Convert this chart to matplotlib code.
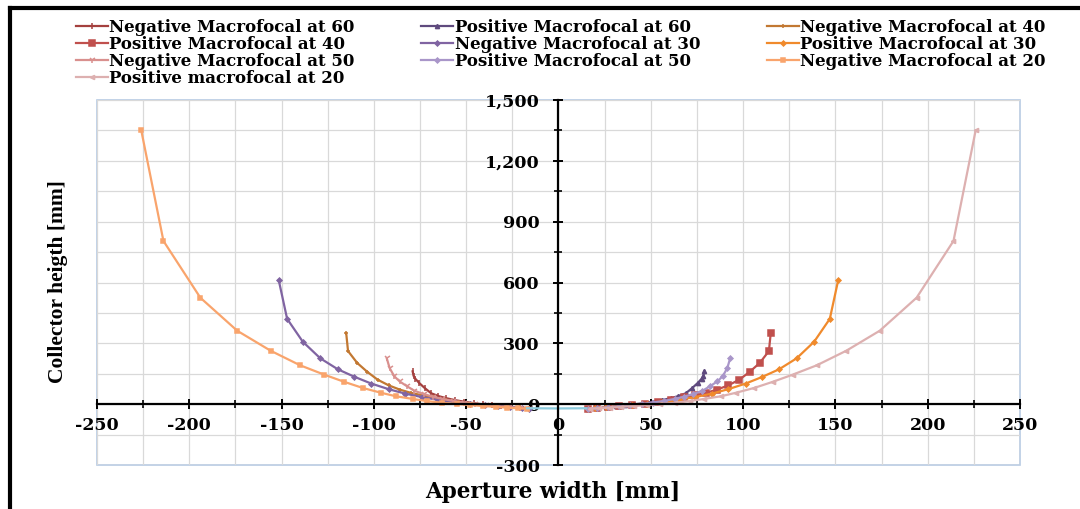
import matplotlib
matplotlib.use("Agg")
import matplotlib.pyplot as plt
from matplotlib.lines import Line2D
from matplotlib.ticker import MultipleLocator, FuncFormatter

plt.rcParams['font.family'] = ['DejaVu Serif']
plt.rcParams['font.weight'] = 'bold'

# values (aperture width x, collector height y, mm)
x_60 = [16, 21, 26, 31, 36, 41, 46, 51, 56, 61, 65, 69, 72.5, 75.5, 77.5, 78.5, 79]
y_60 = [-22, -19, -15, -11, -6, -1, 5, 12, 20, 30, 40, 54, 80, 105, 125, 140, 162]

x_50 = [16, 21, 27, 33, 39, 45, 51, 57, 63, 68, 73, 78, 82, 86, 89, 91.5, 93]
y_50 = [-22, -19, -15, -10, -5, 1, 8, 16, 26, 37, 50, 66, 88, 112, 138, 179, 226]

x_40 = [16, 21, 27, 33, 40, 47, 54, 61, 68, 74, 80, 86, 92, 98, 103.5, 109, 114, 115]
y_40 = [-22, -19, -15, -10, -4, 3, 11, 21, 33, 44, 56, 72, 93, 121, 159, 203, 262, 351]

x_30 = [16, 20, 26, 33, 40, 48, 56, 65, 74, 83, 92, 101.5, 110.5, 119.5, 129, 138.5, 147, 151.5]
y_30 = [-22, -19, -15, -10, -5, 2, 10, 21, 35, 52, 74, 102, 135, 172, 226, 308, 421, 610]

x_20 = [17, 22, 28, 34, 41, 48, 55, 63, 71, 79, 88, 96, 106, 116, 127, 140, 156, 174, 194, 214, 226]
y_20 = [-22, -20, -17, -13, -9, -4, 1, 7, 15, 26, 39, 56, 80, 110, 146, 192, 264, 362, 525, 805, 1350]

x_mid = [-17, 0, 15]
y_mid = [-20, -21, -20]

series = [
    ("Negative Macrofocal at 60", [-v for v in x_60], y_60, "#A4403E", "|", 4),
    ("Positive Macrofocal at 60", x_60, y_60, "#5F4A7E", "^", 3),
    ("Negative Macrofocal at 40", [-v for v in x_40], y_40, "#C27832", "+", 3.5),
    ("Positive Macrofocal at 40", x_40, y_40, "#C0504D", "s", 4),
    ("Negative Macrofocal at 30", [-v for v in x_30], y_30, "#8064A2", "D", 2.5),
    ("Positive Macrofocal at 30", x_30, y_30, "#F08A2C", "D", 2.5),
    ("Negative Macrofocal at 50", [-v for v in x_50], y_50, "#D9908E", "1", 4.5),
    ("Positive Macrofocal at 50", x_50, y_50, "#A996C9", "D", 2.5),
    ("Negative Macrofocal at 20", [-v for v in x_20], y_20, "#F9A46C", "s", 3.5),
    ("Positive macrofocal at 20", x_20, y_20, "#DDB0B0", "<", 3),
]

fig = plt.figure(figsize=(10.8, 5.09), dpi=100)
ax = fig.add_axes([0.0898, 0.0864, 0.8546, 0.7171])

handles = {}
for name, xs, ys, col, mk, ms in series:
    h, = ax.plot(xs, ys, color=col, lw=1.6, marker=mk, ms=ms, mew=1.1, label=name)
    handles[name] = h
ax.plot(x_mid, y_mid, color="#8CCBDD", lw=1.6)

ax.set_xlim(-250, 250)
ax.set_ylim(-300, 1500)
ax.xaxis.set_major_locator(MultipleLocator(50))
ax.xaxis.set_minor_locator(MultipleLocator(25))
ax.yaxis.set_major_locator(MultipleLocator(300))
ax.yaxis.set_minor_locator(MultipleLocator(150))
ax.yaxis.set_major_formatter(FuncFormatter(lambda v, p: f"{v:,.0f}"))
ax.xaxis.set_major_formatter(FuncFormatter(lambda v, p: f"{v:.0f}"))

ax.set_axisbelow(True)
ax.grid(which='both', color='#D9D9D9', lw=0.9)

ax.spines['left'].set_position(('data', 0))
ax.spines['bottom'].set_position(('data', 0))
ax.spines['top'].set_visible(False)
ax.spines['right'].set_visible(False)
for s in ('left', 'bottom'):
    ax.spines[s].set_linewidth(1.6)
    ax.spines[s].set_color('black')
ax.patch.set_edgecolor('#B7CBE3')
ax.patch.set_linewidth(1.2)

ax.tick_params(which='major', direction='inout', length=7, width=1.4, labelsize=12.5, pad=6)
ax.tick_params(which='minor', direction='inout', length=6, width=1.2)
ax.tick_params(axis='y', pad=10)

fig.text(58 / 1080, 1 - 282 / 509, "Collector heigth [mm]", rotation=90,
         ha='center', va='center', fontsize=15.5, weight='bold',
         family='Liberation Serif')
fig.text(553 / 1080, 1 - 492 / 509, "Aperture width [mm]",
         ha='center', va='center', fontsize=15.5, weight='bold')

order = ["Negative Macrofocal at 60", "Positive Macrofocal at 40",
         "Negative Macrofocal at 50", "Positive macrofocal at 20",
         "Positive Macrofocal at 60", "Negative Macrofocal at 30",
         "Positive Macrofocal at 50",
         "Negative Macrofocal at 40", "Positive Macrofocal at 30",
         "Negative Macrofocal at 20"]
fig.legend([handles[n] for n in order], order, ncol=3, loc='upper left',
           bbox_to_anchor=(76 / 1080, 1 - 19 / 509), frameon=False, fontsize=12,
           handlelength=1.9, handletextpad=0.1, columnspacing=4.0,
           labelspacing=0.0, borderaxespad=0, borderpad=0)

# outer frame of the picture
fig.add_artist(Line2D([10 / 1080, 10 / 1080], [0, 1 - 8 / 509], color='black', lw=3))
fig.add_artist(Line2D([10 / 1080, 1], [1 - 8 / 509, 1 - 8 / 509], color='black', lw=3))

fig.savefig("out.png", dpi=100)
